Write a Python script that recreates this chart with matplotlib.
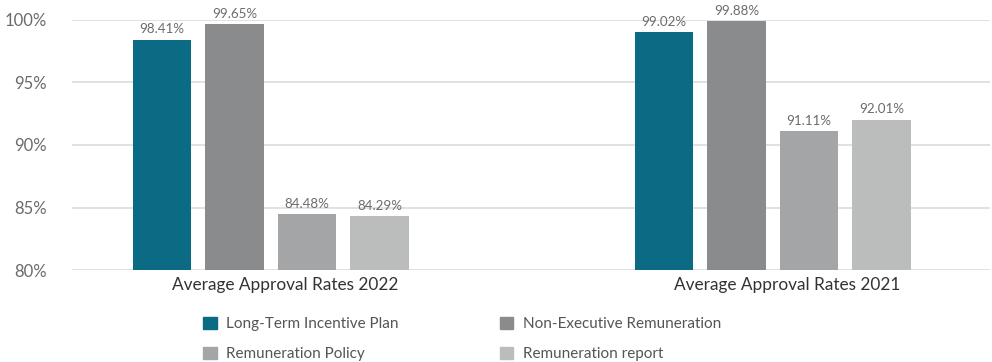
import numpy as np
import matplotlib.pyplot as plt
import matplotlib.transforms as mtransforms
from matplotlib.patches import Patch

plt.rcParams['font.family'] = ['Lato', 'DejaVu Sans']

groups = ['Average Approval Rates 2022', 'Average Approval Rates 2021']
series = ['Long-Term Incentive Plan', 'Non-Executive Remuneration',
          'Remuneration Policy', 'Remuneration report']
values = [
    [98.41, 99.02],
    [99.65, 99.88],
    [84.48, 91.11],
    [84.29, 92.01],
]
colors = ['#0b6a84', '#8a8b8d', '#a4a5a6', '#bbbdbd']

fig = plt.figure(figsize=(9.92, 3.62), dpi=100)
ax = fig.add_axes([0.0726, 0.254, 0.925, 0.691])

x = np.arange(len(groups))
width = 0.116
step = 0.1445
offsets = (np.arange(len(series)) - 1.5) * step

for i, name in enumerate(series):
    bars = ax.bar(x + offsets[i], values[i], width, bottom=0, color=colors[i],
                  label=name, zorder=3)
    for b, v in zip(bars, values[i]):
        ax.text(b.get_x() + b.get_width() / 2, v + 0.35, f'{v:.2f}%',
                ha='center', va='bottom', fontsize=9.6, color='#6b6b6b',
                clip_on=False)

ax.set_ylim(80, 100)
ax.set_xlim(-0.396, 1.432)
ax.set_yticks([80, 85, 90, 95, 100])
ax.set_yticklabels([f'{t}%' for t in [80, 85, 90, 95, 100]])
ax.set_xticks(x)
ax.set_xticklabels(groups)
ax.tick_params(axis='y', length=0, pad=18, labelsize=12, labelcolor='#6b6b6b')
ax.tick_params(axis='x', length=0, pad=5, labelsize=12.4, labelcolor='#333333')
# group labels sit a little right of the group centre
shift = mtransforms.ScaledTranslation(14 / 100, 0, fig.dpi_scale_trans)
for lbl in ax.get_xticklabels():
    lbl.set_transform(lbl.get_transform() + shift)
ax.grid(axis='y', color='#dcdcdc', linewidth=1.2, zorder=0)
for s in ax.spines.values():
    s.set_visible(False)

handles = [Patch(color=c) for c in colors]
order = [0, 2, 1, 3]
fig.legend([handles[k] for k in order], [series[k] for k in order],
           loc='upper left', bbox_to_anchor=(0.205, 0.125), ncol=2,
           frameon=False, fontsize=11, labelcolor='#555555',
           handlelength=0.9, handleheight=0.9, handletextpad=0.6,
           columnspacing=6.6, labelspacing=1.0, borderaxespad=0,
           borderpad=0)

fig.savefig('out.png', dpi=100)
